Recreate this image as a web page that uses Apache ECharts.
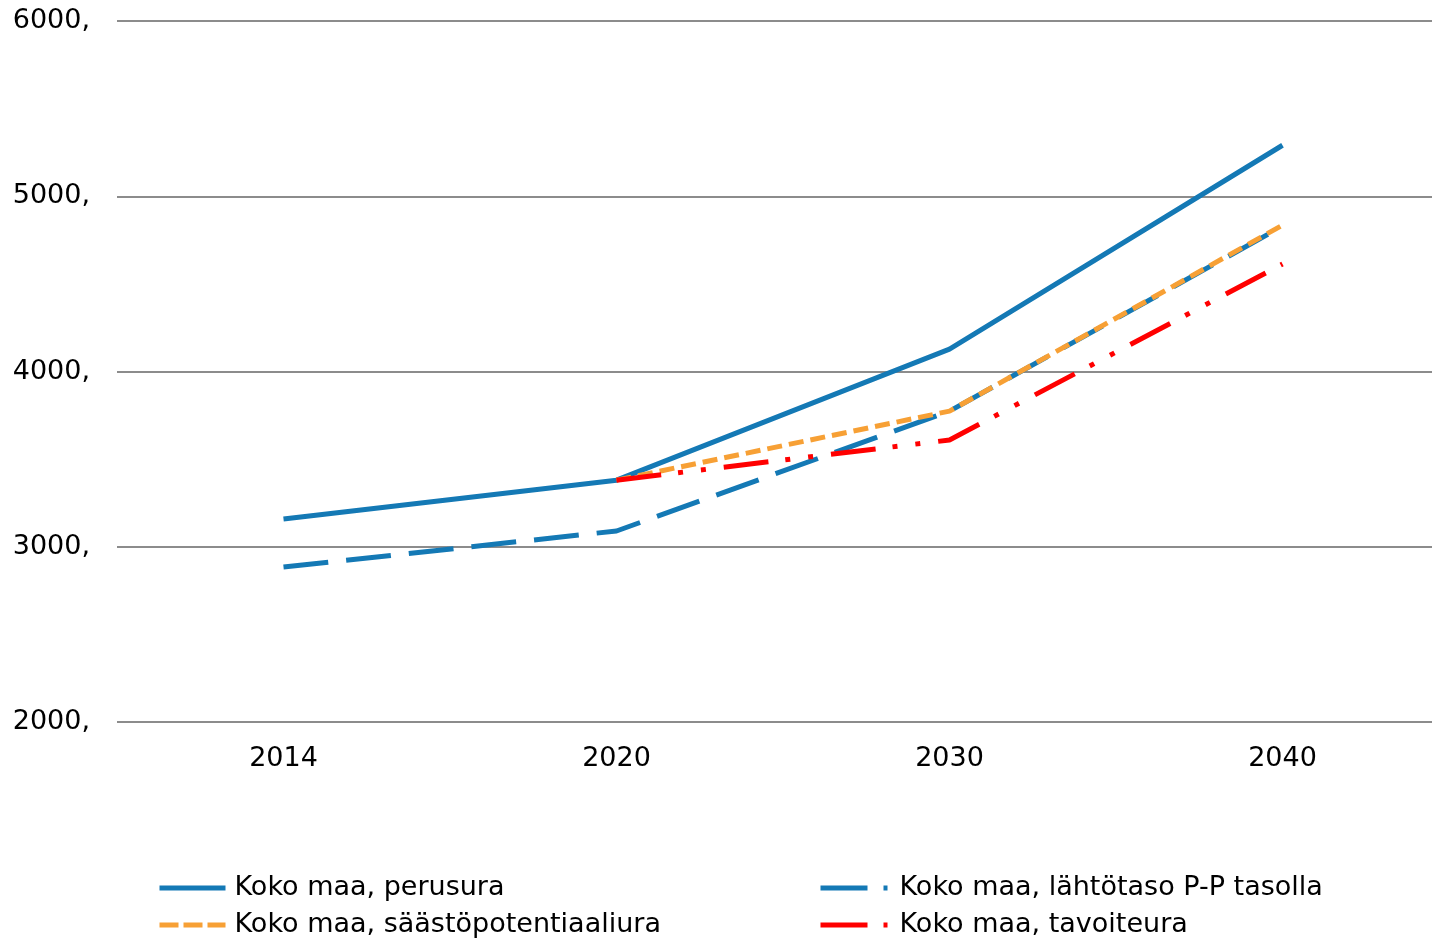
<!DOCTYPE html>
<html>
<head>
<meta charset="utf-8">
<script src="https://cdn.jsdelivr.net/npm/echarts@6/dist/echarts.min.js"></script>
<style>
  html, body { margin: 0; padding: 0; background: #fff; }
  #chart { width: 1432px; height: 938px; }
</style>
</head>
<body>
<div id="chart"></div>
<script>
// 分类（年份）
var YEARS = ['2014', '2020', '2030', '2040'];
// 各系列数值
var PERUSURA = [3158, 3380, 4128, 5291];
var LAHTOTASO = [2884, 3090, 3774, 4829];
var SAASTO = [null, 3380, 3774, 4835];
var TAVOITE = [null, 3380, 3609, 4613];
// 纵轴刻度
var Y_MIN = 2000, Y_MAX = 6000, Y_STEP = 1000;

var NAMES = ['Koko maa, perusura', 'Koko maa, lähtötaso P-P tasolla',
  'Koko maa, säästöpotentiaaliura', 'Koko maa, tavoiteura'];

var BLUE = '#1479b5', ORANGE = '#f7a035', RED = '#ff0000';
var FONT = 'DejaVu Sans';

var chart = echarts.init(document.getElementById('chart'));

function line(name, data, color, dash) {
  return {
    name: name,
    type: 'line',
    data: data,
    symbol: 'none',
    connectNulls: false,
    lineStyle: { color: color, width: 5, type: dash },
    itemStyle: { color: color }
  };
}

var legendText = { fontFamily: FONT, fontSize: 27, color: '#000', lineHeight: 30, padding: [0, 0, 0, 4] };

// 图例（两列）
function legendCol(left, width, items) {
  return {
    orient: 'vertical', left: left, top: 873, height: 120, padding: 0,
    itemWidth: width, itemHeight: 14, itemGap: 7,
    itemStyle: { opacity: 0 },
    lineStyle: { width: 5 },
    textStyle: legendText,
    data: items
  };
}

chart.setOption({
  animation: false,
  // 绘图区右侧超出画布
  grid: { left: 117, right: -17, top: 21, bottom: 216, outerBoundsMode: 'none', containLabel: false },
  legend: [
    legendCol(157, 66, [
      { name: NAMES[0] },
      { name: NAMES[2], lineStyle: { type: [19, 5], width: 5 } }
    ]),
    legendCol(818, 70, [
      { name: NAMES[1], lineStyle: { type: [47, 16, 4, 100], width: 5 } },
      { name: NAMES[3], lineStyle: { type: [47, 16, 4, 100], width: 5 } }
    ])
  ],
  xAxis: {
    type: 'category',
    data: YEARS,
    boundaryGap: true,
    axisLine: { show: false },
    axisTick: { show: false },
    axisLabel: { fontFamily: FONT, fontSize: 27, color: '#000', margin: 23 }
  },
  yAxis: {
    type: 'value',
    min: Y_MIN, max: Y_MAX, interval: Y_STEP,
    axisLine: { show: false },
    axisTick: { show: false },
    splitLine: { lineStyle: { color: '#8c8c8c', width: 2 } },
    axisLabel: {
      fontFamily: FONT, fontSize: 27, color: '#000', margin: 27,
      formatter: function (v) { return v + ','; }
    }
  },
  series: [
    line(NAMES[0], PERUSURA, BLUE, 'solid'),
    line(NAMES[1], LAHTOTASO, BLUE, [45, 18]),
    line(NAMES[2], SAASTO, ORANGE, [15, 7]),
    line(NAMES[3], TAVOITE, RED, [45, 17, 5, 18, 5, 18])
  ]
});
</script>
</body>
</html>
